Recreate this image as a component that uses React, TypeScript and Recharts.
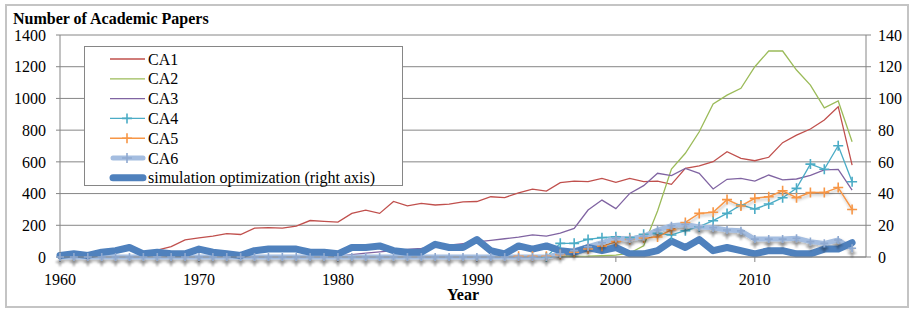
import React from "react";
import { LineChart, Line, XAxis, YAxis, CartesianGrid } from "recharts";

const years = [
  1960, 1961, 1962, 1963, 1964, 1965, 1966, 1967, 1968, 1969,
  1970, 1971, 1972, 1973, 1974, 1975, 1976, 1977, 1978, 1979,
  1980, 1981, 1982, 1983, 1984, 1985, 1986, 1987, 1988, 1989,
  1990, 1991, 1992, 1993, 1994, 1995, 1996, 1997, 1998, 1999,
  2000, 2001, 2002, 2003, 2004, 2005, 2006, 2007, 2008, 2009,
  2010, 2011, 2012, 2013, 2014, 2015, 2016, 2017,
];

const ca1 = [
  2, 3, 4, 5, 6, 8, 8, 44, 65, 108,
  120, 132, 148, 142, 182, 185, 182, 195, 230, 225,
  220, 275, 295, 275, 350, 322, 338, 328, 334, 348,
  350, 380, 375, 405, 428, 416, 469, 479, 475, 496,
  471, 496, 475, 479, 458, 559, 574, 601, 664, 622,
  607, 629, 721, 769, 807, 864, 948, 580,
];

const ca2 = [
  0, 0, 0, 0, 0, 0, 0, 0, 0, 0,
  0, 0, 0, 0, 0, 0, 0, 0, 0, 0,
  0, 0, 0, 0, 0, 0, 0, 0, 0, 0,
  0, 0, 0, 3, 5, 5, 5, 4, 5, 8,
  12, 25, 70, 290, 555, 654, 790, 965, 1021, 1064,
  1200, 1299, 1299, 1179, 1084, 941, 984, 727,
];

const ca3 = [
  0, 0, 0, 0, 0, 0, 0, 0, 0, 0,
  0, 0, 0, 0, 0, 0, 0, 0, 0, 0,
  5, 15, 25, 32, 40, 48, 55, 65, 75, 85,
  95, 105, 115, 125, 140, 132, 150, 180, 296, 359,
  305, 401, 450, 528, 513, 559, 528, 429, 490, 496,
  479, 517, 486, 492, 515, 550, 553, 422,
];

const ca4 = [
  null, null, null, null, null, null, null, null, null, null,
  null, null, null, null, null, null, null, null, null, null,
  null, null, null, null, null, null, null, null, null, null,
  null, null, null, null, null, 0, 86, 86, 111, 122,
  128, 122, 143, 149, 139, 166, 191, 229, 275, 328,
  303, 334, 374, 433, 586, 553, 702, 475,
];

const ca5 = [
  null, null, null, null, null, null, null, null, null, null,
  null, null, null, null, null, null, null, null, null, null,
  null, null, null, null, null, null, null, null, null, null,
  null, null, null, 5, 5, 5, 15, 30, 50, 68,
  97, 110, 120, 126, 172, 218, 275, 282, 362, 322,
  370, 380, 418, 374, 406, 406, 438, 300,
];

const ca6 = [
  0, 0, 0, 0, 0, 0, 0, 0, 0, 0,
  0, 0, 0, 0, 0, 0, 0, 0, 0, 0,
  0, 0, 0, 0, 0, 0, 0, 0, 0, 0,
  0, 0, 0, 0, 0, 0, 20, 40, 65, 90,
  118, 113, 130, 170, 197, 205, 190, 185, 170, 165,
  113, 113, 113, 118, 97, 86, 107, 55,
];

// simulation optimization, plotted on the right axis
const simOpt = [
  1, 2, 1, 3, 4, 6, 2, 3, 2, 2,
  5, 3, 2, 1, 4, 5, 5, 5, 3, 3,
  2, 6, 6, 7, 4, 3, 3, 8, 6, 6,
  11, 4, 2, 7, 5, 7, 4, 3, 6, 4,
  6, 2, 2, 4, 10, 6, 11, 4, 6, 4,
  2, 4, 4, 2, 2, 5, 5, 9,
];

const xTicks = [1960, 1970, 1980, 1990, 2000, 2010];
const leftTicks = [0, 200, 400, 600, 800, 1000, 1200, 1400];
const rightTicks = [0, 20, 40, 60, 80, 100, 120, 140];

const data = years.map((year, i) => ({
  year,
  ca1: ca1[i],
  ca2: ca2[i],
  ca3: ca3[i],
  ca4: ca4[i],
  ca5: ca5[i],
  ca6: ca6[i],
  so: simOpt[i],
}));

const FONT = "Liberation Serif, Tinos, Times New Roman, DejaVu Serif, serif";
const AXIS = "#868686";

const legendItems = [
  { name: "CA1", color: "#C0504D", width: 1.3, plus: false },
  { name: "CA2", color: "#9BBB59", width: 1.3, plus: false },
  { name: "CA3", color: "#8064A2", width: 1.3, plus: false },
  { name: "CA4", color: "#4BACC6", width: 1.3, plus: true },
  { name: "CA5", color: "#F79646", width: 1.5, plus: true },
  { name: "CA6", color: "#A4BDE0", width: 5, plus: true },
  { name: "simulation optimization (right axis)", color: "#4F81BD", width: 7, plus: false },
];

function plusDot(color: string, half: number, shadow: boolean) {
  return (props: any) => {
    const { cx, cy, value, index } = props;
    if (cx == null || cy == null || value == null) return <g key={`n${index}`} />;
    return (
      <path
        key={`p${index}`}
        d={`M${cx - half},${cy}h${half * 2}M${cx},${cy - half}v${half * 2}`}
        stroke={color}
        strokeWidth={1.6}
        fill="none"
        filter={shadow ? "url(#markShadow)" : undefined}
      />
    );
  };
}

function Overlay() {
  const rowY = (i: number) => 59 + i * 19.8;
  const txt = { fontFamily: FONT, fontSize: 16 };
  return (
    <svg
      width={910}
      height={309}
      style={{ position: "absolute", left: 0, top: 0, pointerEvents: "none" }}
    >
      <rect x={6} y={5} width={902} height={302} fill="none" stroke="#c4c4c4" strokeWidth={2} />
      <text x={13} y={24} style={{ ...txt, fontWeight: "bold" }} fill="#000">
        Number of Academic Papers
      </text>
      <text x={463} y={300} style={{ ...txt, fontWeight: "bold" }} fill="#000" textAnchor="middle">
        Year
      </text>
      <rect x={84.5} y={46.5} width={318} height={139} fill="#fff" stroke={AXIS} strokeWidth={1} />
      {legendItems.map((it, i) => {
        const y = rowY(i);
        const thick = it.width > 4;
        return (
          <g key={it.name}>
            <line
              x1={thick ? 113 : 110}
              x2={thick ? 143 : 145}
              y1={y}
              y2={y}
              stroke={it.color}
              strokeWidth={it.width}
              strokeLinecap={thick ? "round" : "butt"}
            />
            {it.plus && (
              <path
                d={`M${122},${y}h10M${127},${y - 5}v10`}
                stroke={it.name === "CA6" ? "#8FA9D0" : it.color}
                strokeWidth={1.6}
              />
            )}
            <text x={148} y={y + 5.5} style={txt} fill="#000">
              {it.name}
            </text>
          </g>
        );
      })}
    </svg>
  );
}

export default function App() {
  const tickStyle = { fill: "#000", fontSize: 16, fontFamily: FONT };
  return (
    <div
      style={{
        position: "absolute",
        left: 0,
        top: 0,
        width: 910,
        height: 309,
        background: "#fff",
        fontFamily: FONT,
      }}
    >
      <LineChart
        width={910}
        height={309}
        data={data}
        margin={{ top: 35, right: 0, bottom: 0, left: 0 }}
        style={{ fontFamily: FONT }}
      >
        <defs>
          <filter id="markShadow" filterUnits="userSpaceOnUse" x={0} y={0} width={910} height={309}>
            <feGaussianBlur in="SourceAlpha" stdDeviation={1.2} />
            <feOffset dx={0} dy={5} result="ob" />
            <feFlood floodColor="#000" floodOpacity={0.45} />
            <feComposite in2="ob" operator="in" />
            <feMerge>
              <feMergeNode />
              <feMergeNode in="SourceGraphic" />
            </feMerge>
          </filter>
          <filter id="lineShadow" filterUnits="userSpaceOnUse" x={0} y={0} width={910} height={309}>
            <feGaussianBlur in="SourceAlpha" stdDeviation={1.5} />
            <feOffset dx={1} dy={2} result="ob" />
            <feFlood floodColor="#000" floodOpacity={0.3} />
            <feComposite in2="ob" operator="in" />
            <feMerge>
              <feMergeNode />
              <feMergeNode in="SourceGraphic" />
            </feMerge>
          </filter>
        </defs>
        <CartesianGrid horizontal vertical={false} stroke={AXIS} strokeWidth={1} />
        <XAxis
          dataKey="year"
          type="number"
          domain={[1960, 2018]}
          ticks={xTicks}
          height={52}
          tickSize={5}
          tickMargin={12}
          axisLine={{ stroke: AXIS }}
          tickLine={{ stroke: AXIS }}
          tick={tickStyle}
        />
        <YAxis
          domain={[0, 1400]}
          ticks={leftTicks}
          width={60}
          tickSize={4}
          tickMargin={10}
          axisLine={{ stroke: AXIS }}
          tickLine={{ stroke: AXIS }}
          tick={tickStyle}
        />
        <YAxis
          yAxisId="right"
          orientation="right"
          domain={[0, 140]}
          ticks={rightTicks}
          width={44}
          tickSize={5}
          tickMargin={7}
          axisLine={{ stroke: AXIS }}
          tickLine={{ stroke: AXIS }}
          tick={tickStyle}
        />
        <Line type="linear" dataKey="ca1" stroke="#C0504D" strokeWidth={1.3} dot={false} isAnimationActive={false} />
        <Line type="linear" dataKey="ca2" stroke="#9BBB59" strokeWidth={1.3} dot={false} isAnimationActive={false} />
        <Line type="linear" dataKey="ca3" stroke="#8064A2" strokeWidth={1.3} dot={false} isAnimationActive={false} />
        <Line
          type="linear"
          dataKey="ca4"
          stroke="#4BACC6"
          strokeWidth={1.3}
          dot={plusDot("#4BACC6", 5, false)}
          isAnimationActive={false}
        />
        <Line
          type="linear"
          dataKey="ca5"
          stroke="#F79646"
          strokeWidth={1.5}
          filter="url(#lineShadow)"
          dot={plusDot("#F79646", 5, false)}
          isAnimationActive={false}
        />
        <Line
          type="linear"
          dataKey="ca6"
          stroke="#A4BDE0"
          strokeWidth={5}
          strokeLinejoin="round"
          filter="url(#lineShadow)"
          dot={plusDot("#8FA9D0", 4, true)}
          isAnimationActive={false}
        />
        <Line
          type="linear"
          dataKey="so"
          yAxisId="right"
          stroke="#4F81BD"
          strokeWidth={7}
          strokeLinejoin="round"
          strokeLinecap="round"
          dot={false}
          isAnimationActive={false}
        />
      </LineChart>
      <Overlay />
    </div>
  );
}
